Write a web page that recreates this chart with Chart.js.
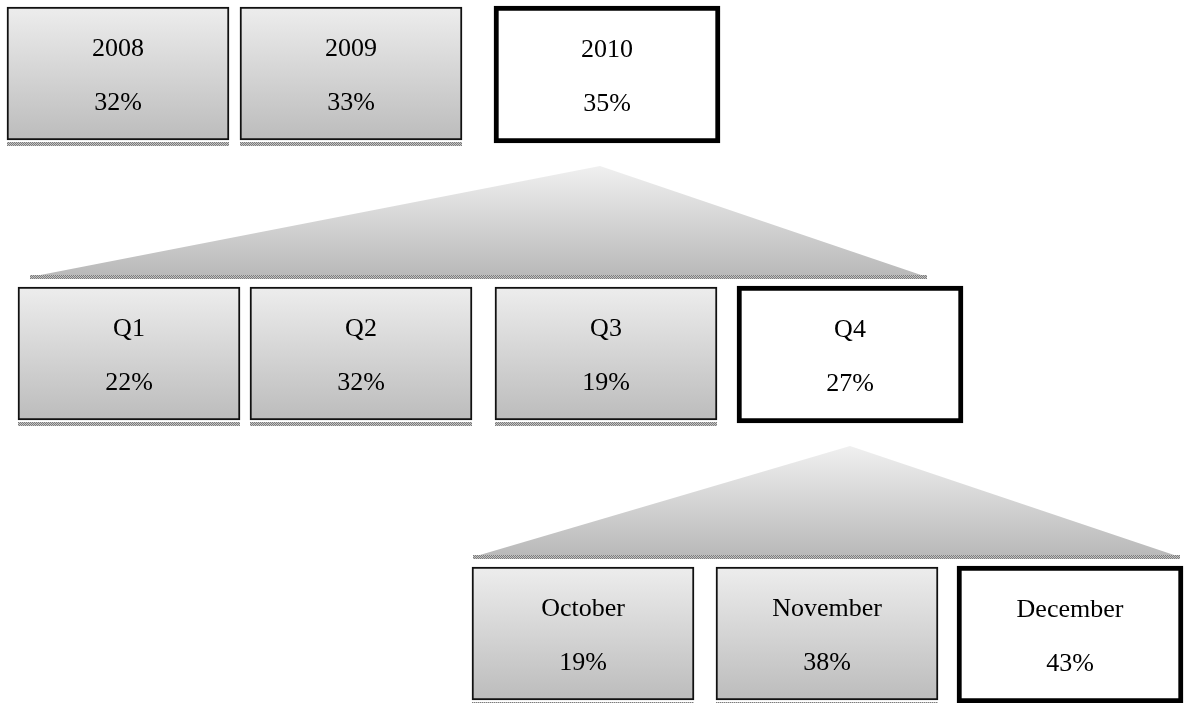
<!DOCTYPE html>
<html>
<head>
<meta charset="utf-8">
<script src="https://cdn.jsdelivr.net/npm/chart.js@4.4.1/dist/chart.umd.min.js"></script>
<style>
  body { margin: 0; background: #fff; }
  #wrap { width: 1185px; height: 703px; }
</style>
</head>
<body>
<div id="wrap"><canvas id="drillChart"></canvas></div>
<script>
// drill-down: year -> quarter -> month
const years = ["2008", "2009", "2010"];
const yearShares = [32, 33, 35];
const quarters = ["Q1", "Q2", "Q3", "Q4"];
const quarterShares = [22, 32, 19, 27];
const months = ["October", "November", "December"];
const monthShares = [19, 38, 43];
const selectedYear = "2010";
const selectedQuarter = "Q4";
const selectedMonth = "December";

// page layout (pixels, the axes run 0..W and 0..H so value == pixel)
const W = 1185, H = 703;
const boxW = 222, boxH = 133, selW = 226, selH = 137;
const rows = [
  { names: years, shares: yearShares, selected: selectedYear, top: 7, left: 7, gaps: [11, 32] },
  { names: quarters, shares: quarterShares, selected: selectedQuarter, top: 287, left: 18, gaps: [10, 23, 20] },
  { names: months, shares: monthShares, selected: selectedMonth, top: 567, left: 472, gaps: [22, 19] }
];
// wedge from the selected box of one row down to the next row
const links = [
  { from: 0, to: 1, apexDX: -7, insetL: 12, insetR: 36 },
  { from: 1, to: 2, apexDX: 0, insetL: 1, insetR: 3 }
];

// work out the boxes of each row
const plainBoxes = [], selBoxes = [];
rows.forEach(r => {
  let x = r.left;
  r.names.forEach((n, i) => {
    const isSel = n === r.selected;
    const w = isSel ? selW : boxW;
    const top = isSel ? r.top - 1 : r.top;
    const bottom = top + (isSel ? selH : boxH);
    const pt = { x: x + w / 2, y: [top, bottom], name: n, share: r.shares[i] };
    (isSel ? selBoxes : plainBoxes).push(pt);
    if (isSel) { r.selBox = { cx: x + w / 2, bottom: bottom }; }
    x += w + (r.gaps[i] || 0);
  });
  r.right = x;
});

function vGradient(chart, v0, v1, c0, c1) {
  const y = chart.scales.y;
  const p0 = y ? y.getPixelForValue(v0) : NaN;
  const p1 = y ? y.getPixelForValue(v1) : NaN;
  if (!isFinite(p0) || !isFinite(p1)) return c1;
  const g = chart.ctx.createLinearGradient(0, p0, 0, p1);
  g.addColorStop(0, c0);
  g.addColorStop(1, c1);
  return g;
}

function boxGradient(ctx) {
  if (ctx.type !== 'data') return '#d6d6d6';
  return vGradient(ctx.chart, ctx.raw.y[0], ctx.raw.y[1], '#ededed', '#bcbcbc');
}

const datasets = [];
links.forEach(l => {
  const p = rows[l.from], c = rows[l.to];
  const apexY = p.selBox.bottom + 23;
  const baseY = c.top - 10;
  const pts = [
    { x: c.left + l.insetL, y: baseY },
    { x: p.selBox.cx + l.apexDX, y: apexY },
    { x: c.right - l.insetR, y: baseY }
  ];
  datasets.push({
    type: 'line',
    data: pts,
    fill: { value: baseY },
    borderWidth: 0,
    borderColor: 'rgba(0,0,0,0)',
    pointRadius: 0,
    tension: 0,
    backgroundColor: (ctx) => vGradient(ctx.chart, apexY, baseY, '#f0f0f0', '#b8b8b8')
  });
});
// both box sets share one "stack" so they are not shifted side by side
datasets.push({
  type: 'bar', data: plainBoxes, plain: true, barThickness: boxW, stack: 'boxes',
  backgroundColor: boxGradient, borderColor: '#111', borderWidth: 2, borderSkipped: false
});
datasets.push({
  type: 'bar', data: selBoxes, barThickness: selW, stack: 'boxes',
  backgroundColor: '#ffffff', borderColor: '#000', borderWidth: 5, borderSkipped: false
});

// dithered grey strip used as the shadow under boxes and wedges
function ditherPattern(c) {
  const pc = document.createElement('canvas');
  pc.width = 2; pc.height = 2;
  const p = pc.getContext('2d');
  p.fillStyle = '#c4c4c4';
  p.fillRect(0, 0, 2, 2);
  p.fillStyle = '#7c7c7c';
  p.fillRect(0, 0, 1, 1);
  p.fillRect(1, 1, 1, 1);
  return c.createPattern(pc, 'repeat');
}

const boxText = {
  id: 'boxText',
  afterDatasetsDraw(chart) {
    const c = chart.ctx;
    const pat = ditherPattern(c);
    c.save();
    chart.data.datasets.forEach((ds, di) => {
      const meta = chart.getDatasetMeta(di);
      if (ds.type === 'line') {
        const pts = meta.data;
        const yb = pts[0].y;
        c.fillStyle = pat;
        c.fillRect(pts[0].x, yb - 2, pts[2].x - pts[0].x, 4);
        return;
      }
      meta.data.forEach((el, i) => {
        const raw = ds.data[i];
        const top = Math.min(el.y, el.base), bottom = Math.max(el.y, el.base);
        const left = el.x - el.width / 2;
        if (ds.plain) {
          c.fillStyle = pat;
          c.fillRect(left, bottom + 2, el.width, 4);
        }
        const cy = (top + bottom) / 2;
        c.fillStyle = '#000';
        c.font = '26px "Liberation Serif", "Times New Roman", serif';
        c.textAlign = 'center';
        c.textBaseline = 'alphabetic';
        c.fillText(raw.name, el.x, cy - 18);
        c.fillText(raw.share + '%', el.x, cy + 36);
      });
    });
    c.restore();
  }
};

new Chart(document.getElementById('drillChart'), {
  type: 'bar',
  data: { datasets: datasets },
  options: {
    responsive: true,
    maintainAspectRatio: false,
    animation: false,
    events: [],
    layout: { padding: 0 },
    plugins: { legend: { display: false }, tooltip: { enabled: false } },
    scales: {
      x: { type: 'linear', min: 0, max: W, offset: false, display: false },
      y: { type: 'linear', min: 0, max: H, reverse: true, display: false }
    }
  },
  plugins: [boxText]
});
</script>
</body>
</html>
